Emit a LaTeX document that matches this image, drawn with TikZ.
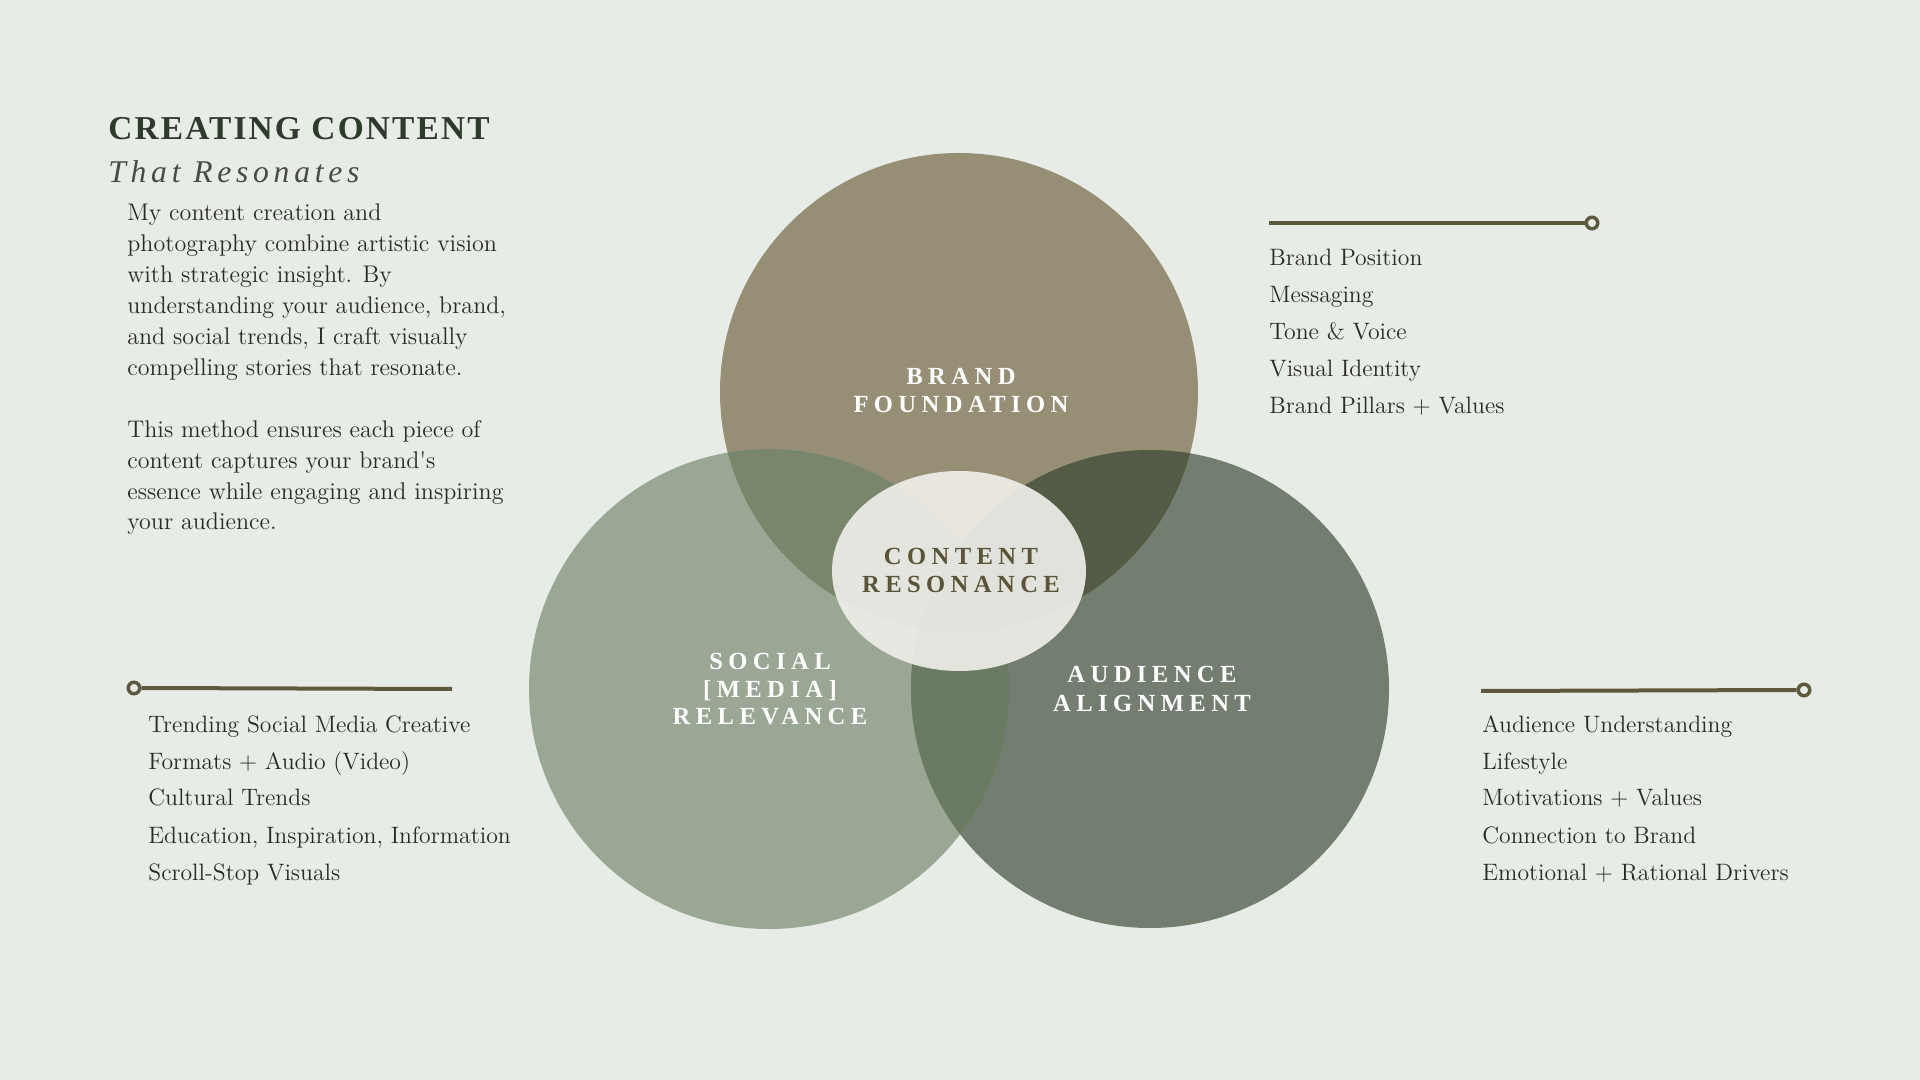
\documentclass[tikz,border=0pt]{standalone}
\usepackage{fontspec}
\newfontfamily\headfont[LetterSpace=6.5]{Liberation Serif}
\newfontfamily\subfont[LetterSpace=15]{Liberation Serif}
\newfontfamily\capfont[LetterSpace=22]{Liberation Serif}

\definecolor{bgcol}{HTML}{E8ECE6}
\definecolor{brandcol}{HTML}{968F76}
\definecolor{socialcol}{HTML}{9AA795}
\definecolor{audcol}{HTML}{747E70}
\definecolor{bscol}{HTML}{7A866C}
\definecolor{bacol}{HTML}{535B45}
\definecolor{sacol}{HTML}{6B7B63}
\definecolor{midcol}{HTML}{5E6C54}
\definecolor{ovalcol}{HTML}{EFEEE9}
\definecolor{rulebrown}{HTML}{5E5A40}
\definecolor{inkdark}{HTML}{2A2A24}
\definecolor{headcol}{HTML}{2E3A2C}
\definecolor{contentcol}{HTML}{5A5438}

\tikzset{
  bodytext/.style={anchor=base west, align=left, inner sep=0pt, text=inkdark,
    font=\fontsize{13.7}{17.6}\selectfont},
  listtext/.style={anchor=base west, inner sep=0pt, text=inkdark,
    font=\fontsize{13.5}{16}\selectfont},
  ringlabel/.style={anchor=base, inner sep=0pt, text=white,
    font=\capfont\bfseries\fontsize{14}{16}\selectfont},
  rule/.style={line width=0.8mm, draw=rulebrown},
  dot/.style={circle, draw=rulebrown, line width=0.7mm, fill=bgcol,
    minimum size=2.3mm, inner sep=0pt},
}

\begin{document}
\begin{tikzpicture}[x=0.2mm, y=-0.2mm]
  % background
  \fill[bgcol] (0,0) rectangle (1920,1080);
  \useasboundingbox (0,0) rectangle (1920,1080);

  % circle centres
  \coordinate (brand) at (959,392);
  \coordinate (social) at (769,689);
  \coordinate (aud) at (1150,689);
  \coordinate (core) at (959,571);

  % circles
  \fill[brandcol] (brand) circle[radius=47.8mm];
  \fill[socialcol] (social) circle[radius=48mm];
  \fill[audcol] (aud) circle[radius=47.8mm];

  % overlaps
  \begin{scope}
    \clip (brand) circle[radius=47.8mm];
    \fill[bscol] (social) circle[radius=48mm];
    \fill[bacol] (aud) circle[radius=47.8mm];
  \end{scope}
  \begin{scope}
    \clip (social) circle[radius=48mm];
    \fill[sacol] (aud) circle[radius=47.8mm];
    \clip (brand) circle[radius=47.8mm];
    \fill[midcol] (aud) circle[radius=47.8mm];
  \end{scope}

  % centre oval
  \fill[ovalcol, opacity=0.92] (core) ellipse[x radius=25.4mm, y radius=20mm];

  % ring labels
  \node[ringlabel] (brandlbl) at (961,385) {BRAND};
  \node[ringlabel] (brandlbl2) at (961,413) {FOUNDATION};
  \node[ringlabel, text=contentcol] (corelbl) at (961,565) {CONTENT};
  \node[ringlabel, text=contentcol] (corelbl2) at (961,593) {RESONANCE};
  \node[ringlabel] (sociallbl) at (770,670) {SOCIAL};
  \node[ringlabel] (sociallbl2) at (770,698) {[MEDIA]};
  \node[ringlabel] (sociallbl3) at (770,725) {RELEVANCE};
  \node[ringlabel] (audlbl) at (1152,683) {AUDIENCE};
  \node[ringlabel] (audlbl2) at (1152,712) {ALIGNMENT};

  % heading
  \node[anchor=base west, inner sep=0pt, text=headcol,
    font=\headfont\bfseries\fontsize{19}{22}\selectfont] (title) at (108,140) {CREATING CONTENT};
  \node[anchor=base west, inner sep=0pt, text=inkdark!85,
    font=\subfont\itshape\fontsize{18}{22}\selectfont] (subtitle) at (108,183) {That Resonates};

  % intro text (base = last line)
  \node[bodytext] (intro) at (127,530) {My content creation and\\
    photography combine artistic vision\\
    with strategic insight. By\\
    understanding your audience, brand,\\
    and social trends, I craft visually\\
    compelling stories that resonate.\\[17.6pt]
    This method ensures each piece of\\
    content captures your brand\textquotesingle s\\
    essence while engaging and inspiring\\
    your audience.};

  % brand list
  \coordinate (brandstart) at (1269,223);
  \node[dot] (branddot) at (1592,223) {};
  \draw[rule] (brandstart) -- (branddot.west);
  \foreach \txt [count=\i] in {Brand Position, Messaging, Tone \& Voice,
      Visual Identity, Brand Pillars + Values}
    \node[listtext] (brandit\i) at (1269,266+37*\i-37) {\txt};

  % social list
  \node[dot] (socialdot) at (134,688) {};
  \coordinate (socialend) at (452,689);
  \draw[rule] (socialdot.east) -- (socialend);
  \foreach \txt [count=\i] in {Trending Social Media Creative,
      Formats + Audio (Video), Cultural Trends,
      {Education, Inspiration, Information}, Scroll-Stop Visuals}
    \node[listtext] (socialit\i) at (148,732+37*\i-37) {\txt};

  % audience list
  \coordinate (audstart) at (1481,691);
  \node[dot] (auddot) at (1804,690) {};
  \draw[rule] (audstart) -- (auddot.west);
  \foreach \txt [count=\i] in {Audience Understanding, Lifestyle,
      Motivations + Values, Connection to Brand, Emotional + Rational Drivers}
    \node[listtext] (audit\i) at (1482,732+37*\i-37) {\txt};
\end{tikzpicture}
\end{document}
